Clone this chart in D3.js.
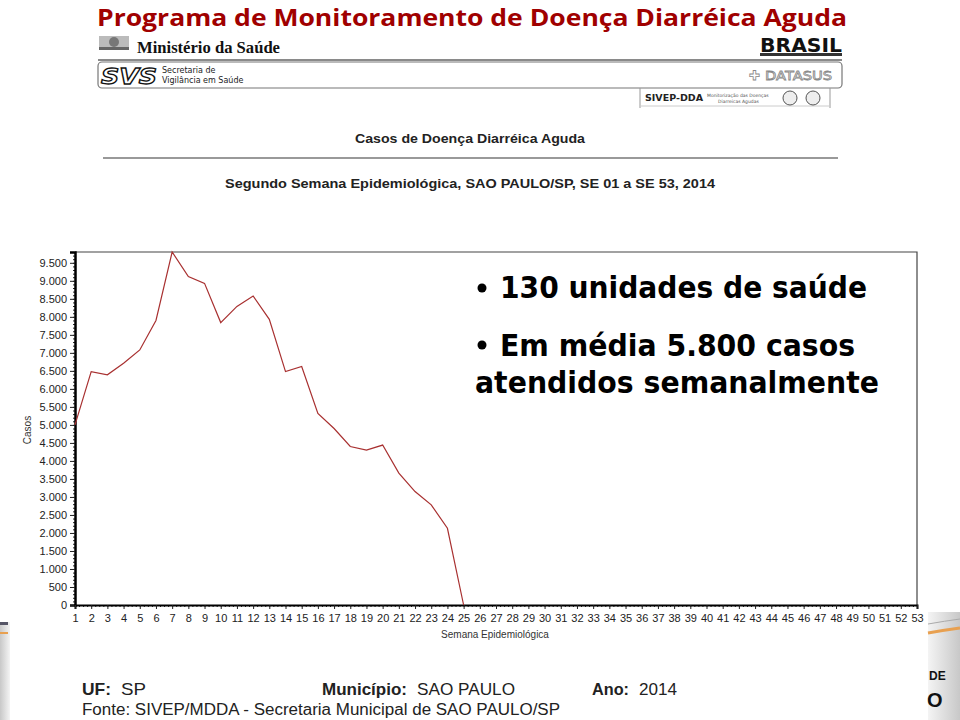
<!DOCTYPE html>
<html><head><meta charset="utf-8">
<script src="https://cdn.jsdelivr.net/npm/d3@7"></script>
<style>
html,body{margin:0;padding:0;background:#fff;}
svg{display:block;}
</style></head>
<body>
<script>
// ---- data ----
const weeks = [1,2,3,4,5,6,7,8,9,10,11,12,13,14,15,16,17,18,19,20,21,22,23,24,25];
const cases = [5000,6480,6390,6710,7080,7900,9800,9120,8930,7840,8290,8580,7930,6480,6620,5320,4900,4400,4300,4440,3660,3150,2780,2130,0];
const xTickLabels = [1,2,3,4,5,6,7,8,9,10,11,12,13,14,15,16,17,18,19,20,21,22,23,24,25,26,27,28,29,30,31,32,33,34,35,36,37,38,39,40,41,42,43,44,45,46,47,48,49,50,51,52,53];
const yTickValues = [0,500,1000,1500,2000,2500,3000,3500,4000,4500,5000,5500,6000,6500,7000,7500,8000,8500,9000,9500];
const bullets = ["130 unidades de saúde", "Em média 5.800 casos", "atendidos semanalmente"];

const W = 960, H = 720;
const svg = d3.select("body").append("svg").attr("width", W).attr("height", H);
svg.append("rect").attr("width", W).attr("height", H).attr("fill", "#fff");

// slide decorations (bottom corners)
const defs = svg.append("defs");
const g1 = defs.append("linearGradient").attr("id","gr").attr("x1","0").attr("x2","1").attr("y1","0").attr("y2","0");
g1.append("stop").attr("offset","0").attr("stop-color","#f4f4f4");
g1.append("stop").attr("offset","1").attr("stop-color","#c8c8c8");
svg.append("rect").attr("x",928).attr("y",612).attr("width",32).attr("height",108).attr("fill","url(#gr)");
svg.append("path").attr("d","M928,633 Q945,630 960,628").attr("stroke","#e8a050").attr("stroke-width",3).attr("fill","none");
svg.append("path").attr("d","M928,624 Q945,621 960,619").attr("stroke","#aaa").attr("stroke-width",1).attr("fill","none");
svg.append("text").attr("x",929).attr("y",680).attr("font-family","Liberation Sans, Arial").attr("font-weight","bold").attr("font-size",12).attr("fill","#111").text("DE");
svg.append("text").attr("x",927).attr("y",707).attr("font-family","Liberation Sans, Arial").attr("font-weight","bold").attr("font-size",20).attr("fill","#111").text("O");
const g2 = defs.append("linearGradient").attr("id","gl").attr("x1","0").attr("x2","1");
g2.append("stop").attr("offset","0").attr("stop-color","#c8c8c8");
g2.append("stop").attr("offset","1").attr("stop-color","#f4f4f4");
svg.append("rect").attr("x",0).attr("y",622).attr("width",10).attr("height",98).attr("fill","url(#gl)");
svg.append("rect").attr("x",0).attr("y",622).attr("width",8).attr("height",3).attr("fill","#556");
svg.append("rect").attr("x",0).attr("y",632).attr("width",8).attr("height",2).attr("fill","#e8a050");

// ---- title ----
svg.append("text").attr("x",97).attr("y",26)
  .attr("font-family","Open Sans, Lato, sans-serif").attr("font-weight","bold").attr("font-size",23.5)
  .attr("fill","#a00000").attr("textLength",750).attr("lengthAdjust","spacingAndGlyphs")
  .text("Programa de Monitoramento de Doença Diarréica Aguda");

// ---- header logos ----
const hdr = svg.append("g");
// emblem
hdr.append("rect").attr("x",99).attr("y",36).attr("width",30).attr("height",14).attr("fill","#bbb");
hdr.append("circle").attr("cx",114).attr("cy",42).attr("r",5).attr("fill","#777");
hdr.append("rect").attr("x",99).attr("y",47).attr("width",30).attr("height",3).attr("fill","#666");
hdr.append("text").attr("x",137).attr("y",53).attr("font-family","Liberation Serif, Times New Roman, serif").attr("font-weight","bold")
  .attr("font-size",16).attr("textLength",143).attr("lengthAdjust","spacingAndGlyphs").attr("fill","#111").text("Ministério da Saúde");
// BRASIL logo
hdr.append("text").attr("x",760).attr("y",52).attr("font-family","DejaVu Sans, sans-serif").attr("font-weight","bold")
  .attr("font-size",20).attr("textLength",82).attr("lengthAdjust","spacingAndGlyphs").attr("fill","#111").text("BRASIL");
hdr.append("rect").attr("x",760).attr("y",53).attr("width",82).attr("height",3).attr("fill","#333");
hdr.append("line").attr("x1",98).attr("x2",842).attr("y1",60).attr("y2",60).attr("stroke","#8a8a8a").attr("stroke-width",2);
hdr.append("rect").attr("x",98).attr("y",62).attr("width",744).attr("height",26).attr("rx",4).attr("fill","none").attr("stroke","#777").attr("stroke-width",1.2);
hdr.append("text").attr("x",101).attr("y",84).attr("font-family","DejaVu Sans, sans-serif").attr("font-weight","bold").attr("font-style","italic")
  .attr("font-size",22).attr("textLength",56).attr("lengthAdjust","spacingAndGlyphs").attr("fill","#fff").attr("stroke","#111").attr("stroke-width",1.3).text("SVS");
hdr.append("text").attr("x",162).attr("y",73).attr("font-family","DejaVu Sans, sans-serif").attr("font-size",8).attr("fill","#222").text("Secretaria de");
hdr.append("text").attr("x",162).attr("y",83).attr("font-family","DejaVu Sans, sans-serif").attr("font-size",8).attr("fill","#222").text("Vigilância em Saúde");
hdr.append("text").attr("x",749).attr("y",80).attr("font-family","DejaVu Sans, sans-serif").attr("font-size",13)
  .attr("fill","#fff").attr("stroke","#888").attr("stroke-width",0.8).text("✚");
hdr.append("text").attr("x",765).attr("y",80).attr("font-family","DejaVu Sans, sans-serif").attr("font-size",13)
  .attr("textLength",67).attr("lengthAdjust","spacingAndGlyphs").attr("fill","#fff").attr("stroke","#888").attr("stroke-width",0.8).text("DATASUS");
hdr.append("path").attr("d","M640,88 V108 M830,88 V108").attr("stroke","#999").attr("stroke-width",1);
hdr.append("line").attr("x1",640).attr("x2",830).attr("y1",106).attr("y2",106).attr("stroke","#ccc");
hdr.append("text").attr("x",645).attr("y",101).attr("font-family","DejaVu Sans, sans-serif").attr("font-weight","bold").attr("font-size",9)
  .attr("textLength",58).attr("lengthAdjust","spacingAndGlyphs").attr("fill","#222").text("SIVEP-DDA");
hdr.append("text").attr("x",707).attr("y",97).attr("font-family","DejaVu Sans, sans-serif").attr("font-size",4.5).attr("fill","#555").text("Monitorização das Doenças");
hdr.append("text").attr("x",718).attr("y",103).attr("font-family","DejaVu Sans, sans-serif").attr("font-size",4.5).attr("fill","#555").text("Diarreicas Agudas");
hdr.append("circle").attr("cx",790).attr("cy",98).attr("r",7).attr("fill","#eee").attr("stroke","#555");
hdr.append("circle").attr("cx",813).attr("cy",98).attr("r",7).attr("fill","#eee").attr("stroke","#555");

// ---- report titles ----
svg.append("text").attr("x",470).attr("y",143).attr("text-anchor","middle")
  .attr("font-family","Liberation Sans, Arial, sans-serif").attr("font-weight","bold").attr("font-size",13)
  .attr("textLength",230).attr("lengthAdjust","spacingAndGlyphs").attr("fill","#222").text("Casos de Doença Diarréica Aguda");
svg.append("line").attr("x1",103).attr("x2",838).attr("y1",158).attr("y2",158).attr("stroke","#999").attr("stroke-width",2);
svg.append("text").attr("x",470).attr("y",188).attr("text-anchor","middle")
  .attr("font-family","Liberation Sans, Arial, sans-serif").attr("font-weight","bold").attr("font-size",13)
  .attr("textLength",490).attr("lengthAdjust","spacingAndGlyphs").attr("fill","#222")
  .text("Segundo Semana Epidemiológica,  SAO PAULO/SP, SE 01 a SE 53,  2014");

// ---- chart ----
const x = d3.scaleLinear().domain([1,53]).range([75,917]);
const y = d3.scaleLinear().domain([0,9800]).range([605,252]);
const chartFont = "Liberation Sans, Arial, sans-serif";

// frame
svg.append("path").attr("d",`M${x(1)},${y(9800)}H${x(53)}V${y(0)}`).attr("fill","none").attr("stroke","#444").attr("stroke-width",1.2);

// y axis
const yMinor = svg.append("g").attr("transform",`translate(${x(1)},0)`)
  .call(d3.axisLeft(y).tickValues(d3.range(0,9801,100)).tickSize(2).tickFormat(""));
yMinor.select(".domain").remove();
yMinor.selectAll("line").attr("stroke","#222");
const yAx = svg.append("g").attr("transform",`translate(${x(1)},0)`)
  .call(d3.axisLeft(y).tickValues(yTickValues).tickSize(5).tickPadding(3)
    .tickFormat(d => d3.format(",")(d).replace(/,/g,".")));
yAx.select(".domain").attr("stroke","#000").attr("stroke-width",2.5);
yAx.selectAll("text").attr("font-family",chartFont).attr("font-size",11).attr("fill","#222");
yAx.selectAll(".tick line").attr("stroke","#222");

// x axis
const xMinor = svg.append("g").attr("transform",`translate(0,${y(0)})`)
  .call(d3.axisBottom(x).tickValues(d3.range(1,53.01,0.25)).tickSize(2).tickFormat(""));
xMinor.select(".domain").remove();
xMinor.selectAll("line").attr("stroke","#222");
const xAx = svg.append("g").attr("transform",`translate(0,${y(0)})`)
  .call(d3.axisBottom(x).tickValues(xTickLabels).tickSize(4).tickPadding(5));
xAx.select(".domain").attr("stroke","#000").attr("stroke-width",2);
xAx.selectAll("text").attr("font-family",chartFont).attr("font-size",11).attr("fill","#222");
xAx.selectAll(".tick line").attr("stroke","#222");

svg.append("text").attr("transform","translate(31,430) rotate(-90)").attr("text-anchor","middle")
  .attr("font-family",chartFont).attr("font-size",10).attr("fill","#333").text("Casos");
svg.append("text").attr("x",495).attr("y",638).attr("text-anchor","middle")
  .attr("font-family",chartFont).attr("font-size",10).attr("fill","#333").text("Semana Epidemiológica");

// line
const data = weeks.map((w,i) => ({w, v: cases[i]}));
svg.append("path").datum(data)
  .attr("d", d3.line().x(d => x(d.w)).y(d => y(d.v)))
  .attr("fill","none").attr("stroke","#a83030").attr("stroke-width",1.2);

// ---- bullet overlay ----
const bf = "DejaVu Sans, Verdana, sans-serif";
const bt = svg.append("g").attr("font-family",bf).attr("font-weight","bold").attr("fill","#000");
bt.append("circle").attr("cx",482).attr("cy",288).attr("r",4.5);
bt.append("text").attr("x",500).attr("y",298).attr("font-size",30).attr("textLength",367).attr("lengthAdjust","spacingAndGlyphs").text(bullets[0]);
bt.append("circle").attr("cx",482).attr("cy",345).attr("r",4.5);
bt.append("text").attr("x",500).attr("y",356).attr("font-size",30).attr("textLength",355).attr("lengthAdjust","spacingAndGlyphs").text(bullets[1]);
bt.append("text").attr("x",475).attr("y",393).attr("font-size",30).attr("textLength",404).attr("lengthAdjust","spacingAndGlyphs").text(bullets[2]);

// ---- footer ----
const ff = "Liberation Sans Narrow, Arial Narrow, Liberation Sans, sans-serif";
const ft = svg.append("g").attr("font-family",ff).attr("font-size",17).attr("fill","#222");
function lab(xp, yp, b, r, wb, wr) {
  ft.append("text").attr("x",xp).attr("y",yp).attr("font-weight","bold").attr("textLength",wb).attr("lengthAdjust","spacingAndGlyphs").text(b);
  ft.append("text").attr("x",xp+wb+10).attr("y",yp).attr("textLength",wr).attr("lengthAdjust","spacingAndGlyphs").text(r);
}
lab(82, 695, "UF:", "SP", 29, 25);
lab(322, 695, "Município:", "SAO PAULO", 85, 98);
lab(592, 695, "Ano:", "2014", 37, 38);
ft.append("text").attr("x",82).attr("y",715).attr("font-size",16).attr("textLength",478).attr("lengthAdjust","spacingAndGlyphs")
  .text("Fonte: SIVEP/MDDA - Secretaria Municipal de SAO PAULO/SP");
</script>
</body></html>
